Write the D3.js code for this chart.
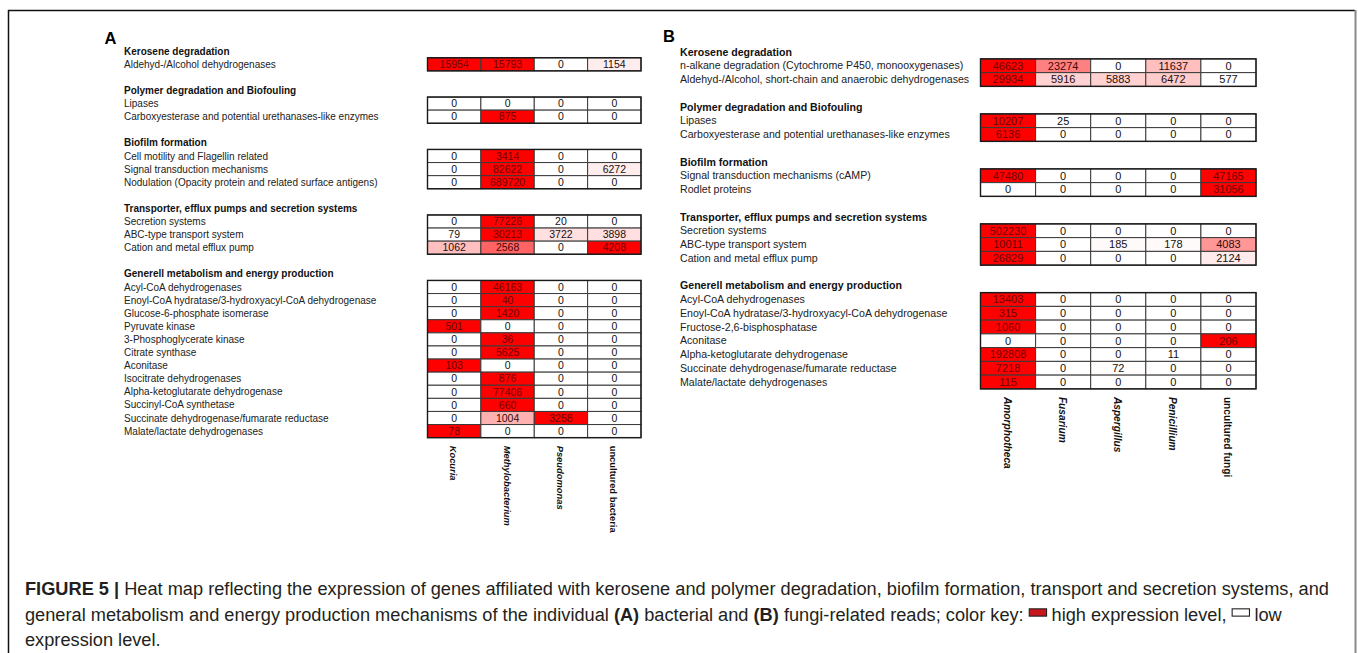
<!DOCTYPE html>
<html>
<head>
<meta charset="utf-8">
<script src="https://cdn.jsdelivr.net/npm/d3@7"></script>
<style>
  html, body { margin: 0; padding: 0; background: #fff; }
  svg { display: block; font-family: "Liberation Sans", Arial, Helvetica, sans-serif; }
  text { white-space: pre; }
</style>
</head>
<body>
<svg id="fig" width="1358" height="653"></svg>
<script>
// ---------- Panel A: bacterial reads ----------
const bacteriaTaxa = ["Kocuria", "Methylobacterium", "Pseudomonas", "uncultured bacteria"];
const bacteriaGroups = [
  "Kerosene degradation",
  "Polymer degradation and Biofouling",
  "Biofilm formation",
  "Transporter, efflux pumps and secretion systems",
  "Generell metabolism and energy production"
];
const bacteriaGenes = [
  ["Aldehyd-/Alcohol dehydrogenases"],
  ["Lipases", "Carboxyesterase and potential urethanases-like enzymes"],
  ["Cell motility and Flagellin related", "Signal transduction mechanisms",
   "Nodulation (Opacity protein and related surface antigens)"],
  ["Secretion systems", "ABC-type transport system", "Cation and metal efflux pump"],
  ["Acyl-CoA dehydrogenases", "Enoyl-CoA hydratase/3-hydroxyacyl-CoA dehydrogenase",
   "Glucose-6-phosphate isomerase", "Pyruvate kinase", "3-Phosphoglycerate kinase",
   "Citrate synthase", "Aconitase", "Isocitrate dehydrogenases",
   "Alpha-ketoglutarate dehydrogenase", "Succinyl-CoA synthetase",
   "Succinate dehydrogenase/fumarate reductase", "Malate/lactate dehydrogenases"]
];
const bacteriaCounts = [
  [[15954, 15793, 0, 1154]],
  [[0, 0, 0, 0], [0, 875, 0, 0]],
  [[0, 3414, 0, 0], [0, 82622, 0, 6272], [0, 689720, 0, 0]],
  [[0, 77226, 20, 0], [79, 30213, 3722, 3898], [1062, 2568, 0, 4208]],
  [[0, 46163, 0, 0], [0, 40, 0, 0], [0, 1420, 0, 0], [501, 0, 0, 0], [0, 36, 0, 0],
   [0, 5625, 0, 0], [103, 0, 0, 0], [0, 876, 0, 0], [0, 77406, 0, 0], [0, 660, 0, 0],
   [0, 1004, 3258, 0], [78, 0, 0, 0]]
];

// ---------- Panel B: fungi-related reads ----------
const fungiTaxa = ["Amorphotheca", "Fusarium", "Aspergillus", "Penicillium", "uncultured fungi"];
const fungiGroups = bacteriaGroups;
const fungiGenes = [
  ["n-alkane degradation (Cytochrome P450, monooxygenases)",
   "Aldehyd-/Alcohol, short-chain and anaerobic dehydrogenases"],
  ["Lipases", "Carboxyesterase and potential urethanases-like enzymes"],
  ["Signal transduction mechanisms (cAMP)", "Rodlet proteins"],
  ["Secretion systems", "ABC-type transport system", "Cation and metal efflux pump"],
  ["Acyl-CoA dehydrogenases", "Enoyl-CoA hydratase/3-hydroxyacyl-CoA dehydrogenase",
   "Fructose-2,6-bisphosphatase", "Aconitase", "Alpha-ketoglutarate dehydrogenase",
   "Succinate dehydrogenase/fumarate reductase", "Malate/lactate dehydrogenases"]
];
const fungiCounts = [
  [[46623, 23274, 0, 11637, 0], [29934, 5916, 5883, 6472, 577]],
  [[10207, 25, 0, 0, 0], [6136, 0, 0, 0, 0]],
  [[47480, 0, 0, 0, 47165], [0, 0, 0, 0, 31056]],
  [[502230, 0, 0, 0, 0], [10011, 0, 185, 178, 4083], [26829, 0, 0, 0, 2124]],
  [[13403, 0, 0, 0, 0], [315, 0, 0, 0, 0], [1060, 0, 0, 0, 0], [0, 0, 0, 0, 206],
   [192808, 0, 0, 11, 0], [7218, 0, 72, 0, 0], [115, 0, 0, 0, 0]]
];

// ---------- Caption ----------
const captionLines = [
  [{ t: "FIGURE 5 |", b: true },
   { t: " Heat map reflecting the expression of genes affiliated with kerosene and polymer degradation, biofilm formation, transport and secretion systems, and" }],
  [{ t: "general metabolism and energy production mechanisms of the individual " },
   { t: "(A)", b: true }, { t: " bacterial and " }, { t: "(B)", b: true },
   { t: " fungi-related reads; color key: " }, { key: "high" },
   { t: "high expression level, " }, { key: "low" }, { t: "low" }],
  [{ t: "expression level." }]
];

const svg = d3.select("#fig");

// Figure frame
svg.append("line").attr("x1", 8).attr("x2", 1355).attr("y1", 10.5).attr("y2", 10.5)
  .attr("stroke", "#111").attr("stroke-width", 1.5);
svg.append("line").attr("x1", 8.5).attr("x2", 8.5).attr("y1", 10).attr("y2", 653)
  .attr("stroke", "#111").attr("stroke-width", 1.5);
svg.append("line").attr("x1", 1355.5).attr("x2", 1355.5).attr("y1", 10).attr("y2", 653)
  .attr("stroke", "#8a8a8a").attr("stroke-width", 2);

function drawPanel(cfg, taxa, groups, genes, counts) {
  const g = svg.append("g");
  const x = d3.scaleBand().domain(taxa).range([cfg.x0, cfg.x1]);
  const y = d3.scaleLinear().domain([0, 1]).range([cfg.y0, cfg.y0 + cfg.pitch]);

  g.append("text").attr("x", cfg.letterX).attr("y", cfg.letterY)
    .attr("font-size", 16.5).attr("font-weight", "bold").attr("fill", "#000").text(cfg.letter);

  let line = 0;
  let lastLine = 0;
  groups.forEach((name, gi) => {
    g.append("text").attr("x", cfg.labelX).attr("y", y(line)).attr("dy", "0.35em")
      .attr("font-size", cfg.fs).attr("font-weight", "bold").attr("fill", "#111").text(name);
    const first = line + 1;
    genes[gi].forEach((gene, ri) => {
      const ln = first + ri;
      const vals = counts[gi][ri];
      const lo = d3.min(vals), hi = d3.max(vals);
      const color = d3.scaleLinear().domain([lo, hi === lo ? lo + 1 : hi])
        .range(["#ffffff", "#ff0000"]).interpolate(d3.interpolateRgb).clamp(true);
      const ink = d3.scaleLinear().domain([lo, hi === lo ? lo + 1 : hi])
        .range(["#111111", "#6e0000"]).interpolate(d3.interpolateRgb).clamp(true);

      g.append("text").attr("x", cfg.labelX).attr("y", y(ln)).attr("dy", "0.35em")
        .attr("font-size", cfg.fs).attr("fill", "#222").text(gene);

      const cells = g.selectAll(null).data(vals.map((v, i) => ({ v, taxon: taxa[i] })))
        .enter().append("g");
      cells.append("rect")
        .attr("x", d => x(d.taxon)).attr("y", y(ln) - cfg.pitch / 2)
        .attr("width", x.bandwidth()).attr("height", cfg.pitch)
        .attr("fill", d => color(d.v)).attr("stroke", "#3a3a3a").attr("stroke-width", 1);
      cells.append("text")
        .attr("x", d => x(d.taxon) + x.bandwidth() / 2).attr("y", y(ln)).attr("dy", "0.36em")
        .attr("text-anchor", "middle").attr("font-size", cfg.numFs)
        .attr("fill", d => ink(d.v)).text(d => d.v);
    });
    const n = genes[gi].length;
    // group outline
    g.append("rect").attr("x", cfg.x0).attr("y", y(first) - cfg.pitch / 2)
      .attr("width", cfg.x1 - cfg.x0).attr("height", n * cfg.pitch)
      .attr("fill", "none").attr("stroke", "#1a1a1a").attr("stroke-width", 1.4);
    lastLine = first + n - 1;
    line = first + n + 1;
  });

  // rotated column labels
  const top = y(lastLine) + cfg.pitch / 2 + cfg.labelGap;
  g.selectAll(null).data(taxa).enter().append("text")
    .attr("transform", d => `translate(${x(d) + x.bandwidth() / 2 - cfg.colFs * 0.42},${top}) rotate(90)`)
    .attr("font-size", cfg.colFs).attr("font-weight", "bold")
    .attr("font-style", d => d.startsWith("uncultured") ? "normal" : "italic")
    .attr("fill", "#111").text(d => d);
}

drawPanel({ letter: "A", letterX: 104.5, letterY: 43.5, labelX: 124, x0: 427.5, x1: 641,
            y0: 51.2, pitch: 13.1, fs: 10, numFs: 10.5, colFs: 9.4, labelGap: 8 },
          bacteriaTaxa, bacteriaGroups, bacteriaGenes, bacteriaCounts);

drawPanel({ letter: "B", letterX: 663, letterY: 42, labelX: 680, x0: 980.5, x1: 1256,
            y0: 52, pitch: 13.75, fs: 10.6, numFs: 11, colFs: 10.2, labelGap: 8 },
          fungiTaxa, fungiGroups, fungiGenes, fungiCounts);

// Caption, laid out run by run
function drawCaption(fs) {
  const cap = svg.append("g").attr("fill", "#231f20");
  const baselines = [595, 620.5, 646];
  let width0 = 0;
  captionLines.forEach((runs, li) => {
    let cx = 25;
    runs.forEach(r => {
      if (r.key) {
        const kw = fs * 0.95, kh = fs * 0.4;
        cap.append("rect").attr("x", cx + 0.5).attr("y", baselines[li] - fs * 0.64)
          .attr("width", kw).attr("height", kh)
          .attr("fill", r.key === "high" ? "#c8161d" : "#ffffff")
          .attr("stroke", "#231f20").attr("stroke-width", 1.1);
        cx += kw + fs * 0.3;
        return;
      }
      const t = cap.append("text").attr("x", cx).attr("y", baselines[li])
        .attr("font-size", fs).attr("font-weight", r.b ? "bold" : "normal").text(r.t);
      cx += t.node().getComputedTextLength();
    });
    if (li === 0) width0 = cx - 25;
  });
  return { cap, width0 };
}
const probe = drawCaption(16);
const fitted = 16 * 1305 / probe.width0;
probe.cap.remove();
drawCaption(fitted);
</script>
</body>
</html>
